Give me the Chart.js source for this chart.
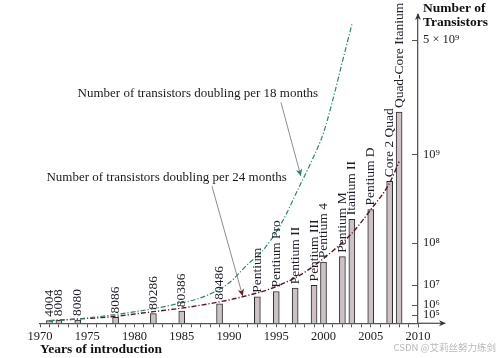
<!DOCTYPE html>
<html>
<head>
<meta charset="utf-8">
<script src="https://cdn.jsdelivr.net/npm/chart.js@4.4.1/dist/chart.umd.min.js"></script>
<style>
  html, body { margin: 0; padding: 0; background: #ffffff; }
  #wrap { width: 500px; height: 358px; position: relative; }
</style>
</head>
<body>
<div id="wrap"><canvas id="c" width="500" height="358"></canvas></div>
<script>
// ---------------- data ----------------
const processors = ['4004', '8008', '8080', '8086', '80286', '80386', '80486', 'Pentium',
  'Pentium Pro', 'Pentium II', 'Pentium III', 'Pentium 4', 'Pentium M', 'Itanium II',
  'Pentium D', 'Core 2 Quad', 'Quad-Core Itanium'];
const introYears = [1971, 1972, 1974, 1978, 1982, 1985, 1989, 1993, 1995, 1997, 1999, 2000,
  2002, 2003, 2005, 2007, 2008];
const transistorCounts = [2300, 3500, 4500, 29000, 134000, 275000, 1200000, 3100000, 5500000,
  7500000, 9500000, 42000000, 55000000, 220000000, 291000000, 582000000, 2000000000];

// doubling curves, values
const curve18Years = [1971, 1974, 1977.5, 1980.5, 1984, 1987.5, 1990, 1992, 1993.5, 1995.5,
  1997.5, 1998.5, 2000, 2001, 2002, 2003];
const curve18Values = [2.3e3, 1.1e4, 8e4, 2.8e5, 1e6, 3.4e6, 1.15e7, 3.8e7, 7e7, 1.9e8,
  5.3e8, 8e8, 1.45e9, 2.4e9, 3.9e9, 5.9e9];
const curve24Years = [1971, 1974, 1977.5, 1982, 1986, 1990, 1991.5, 1994, 1997.5, 1999.5,
  2001.5, 2003, 2005, 2007, 2008];
const curve24Values = [2.3e3, 1.1e4, 4e4, 2.4e5, 7.2e5, 2.1e6, 3.2e6, 6.3e6, 2e7, 4.2e7,
  8.5e7, 1.4e8, 2.9e8, 5.6e8, 8.7e8];

const majorYears = [1970, 1975, 1980, 1985, 1990, 1995, 2000, 2005, 2010];
const yTickValues = [1e5, 1e6, 1e7, 1e8, 1e9, 5e9];
const yTickLabels = ['10\u2075', '10\u2076', '10\u2077', '10\u2078', '10\u2079', '5 \u00d7 10\u2079'];

const annotationTexts = ['Number of transistors doubling per 18 months',
  'Number of transistors doubling per 24 months'];

// ---------------- settings (positions in data space) ----------------
const SERIF = '"Liberation Serif", "DejaVu Serif", serif';
const EXPONENT = 0.321;
const annotationCfg = [
  { text: {x: 1986.7, y: 2.6e9}, tail: {x: 1995.5, y: 2.3e9}, tip: {x: 1997.6, y: 6.5e8}, head: '#1d8466' },
  { text: {x: 1983.4, y: 6.3e8}, tail: {x: 1988.2, y: 5.2e8}, tip: {x: 1991.45, y: 3.4e6}, head: '#7c1424' }
];

// ---------------- power scale ----------------
class PowerScale extends Chart.LinearScale {
  getPixelForValue(value) {
    const v = Math.max(0, +value || 0);
    return this.getPixelForDecimal(Math.pow(v, EXPONENT) / Math.pow(this.max, EXPONENT));
  }
  getValueForPixel(pixel) {
    return Math.pow(this.getDecimalForPixel(pixel), 1 / EXPONENT) * this.max;
  }
}
PowerScale.id = 'power';
PowerScale.defaults = {};
Chart.register(PowerScale);

const minorYears = [];
for (let y = 1970; y <= 2010; y++) minorYears.push(y);

// ---------------- helpers ----------------
function arrowHead(ctx, x, y, angle, len, half, color) {
  ctx.save();
  ctx.translate(x, y);
  ctx.rotate(angle);
  ctx.beginPath();
  ctx.moveTo(0, 0);
  ctx.lineTo(-len, -half);
  ctx.lineTo(-len * 0.7, 0);
  ctx.lineTo(-len, half);
  ctx.closePath();
  ctx.fillStyle = color;
  ctx.fill();
  ctx.restore();
}

const decorPlugin = {
  id: 'decor',
  afterDatasetsDraw(chart) {
    const ctx = chart.ctx;
    const xs = chart.scales.x, ys = chart.scales.y;
    // bar labels
    const meta = chart.getDatasetMeta(2);
    ctx.save();
    ctx.fillStyle = '#1e1e2a';
    ctx.font = '13.5px ' + SERIF;
    ctx.textAlign = 'left';
    ctx.textBaseline = 'middle';
    meta.data.forEach((el, i) => {
      ctx.save();
      ctx.translate(el.x, el.y - 4);
      ctx.rotate(-Math.PI / 2);
      ctx.fillText(processors[i], 0, 0);
      ctx.restore();
    });
    ctx.restore();

    // annotations
    annotationCfg.forEach((a, i) => {
      const tx = xs.getPixelForValue(a.text.x), ty = ys.getPixelForValue(a.text.y);
      ctx.save();
      ctx.fillStyle = '#1a1a1a';
      ctx.font = '13px ' + SERIF;
      ctx.textAlign = 'center';
      ctx.textBaseline = 'middle';
      ctx.fillText(annotationTexts[i], tx, ty);
      const x1 = xs.getPixelForValue(a.tail.x), y1 = ys.getPixelForValue(a.tail.y);
      const x2 = xs.getPixelForValue(a.tip.x), y2 = ys.getPixelForValue(a.tip.y);
      ctx.strokeStyle = '#707070';
      ctx.lineWidth = 0.8;
      ctx.beginPath();
      ctx.moveTo(x1, y1);
      ctx.lineTo(x2, y2);
      ctx.stroke();
      arrowHead(ctx, x2, y2, Math.atan2(y2 - y1, x2 - x1), 7, 3.2, a.head);
      ctx.restore();
    });
  },
  afterDraw(chart) {
    const ctx = chart.ctx;
    const ca = chart.chartArea;
    const ys = chart.scales.y;
    ctx.save();
    ctx.strokeStyle = '#555';
    ctx.lineWidth = 1.3;
    // x axis extension + arrow
    ctx.beginPath();
    ctx.moveTo(ca.right, ca.bottom);
    ctx.lineTo(ca.right + 25, ca.bottom);
    ctx.stroke();
    arrowHead(ctx, ca.right + 28, ca.bottom, 0, 7, 3, '#333');
    // y axis arrow
    arrowHead(ctx, ca.right, ca.top - 2, -Math.PI / 2, 7, 3, '#333');
    // y ticks, inside
    ctx.lineWidth = 1;
    ys.ticks.forEach(t => {
      const py = Math.round(ys.getPixelForValue(t.value)) + 0.5;
      ctx.beginPath();
      ctx.moveTo(ca.right - 6, py);
      ctx.lineTo(ca.right, py);
      ctx.stroke();
    });
    // y axis title
    ctx.fillStyle = '#111';
    ctx.font = 'bold 13.5px ' + SERIF;
    ctx.textAlign = 'left';
    ctx.textBaseline = 'middle';
    ctx.fillText('Number of', ys.left + 5, 9);
    ctx.fillText('Transistors', ys.left + 5, 23);
    // watermark
    ctx.fillStyle = 'rgba(160,160,160,0.75)';
    ctx.font = '9.5px "Noto Sans CJK SC", sans-serif';
    ctx.textAlign = 'right';
    ctx.fillText('CSDN @\u827e\u8389\u4e1d\u52aa\u529b\u7ec3\u5251', 496, 347);
    ctx.restore();
  }
};

new Chart(document.getElementById('c'), {
  type: 'bar',
  data: {
    datasets: [
      {
        type: 'line',
        label: 'doubling per 18 months',
        data: curve18Years.map((x, i) => ({x, y: curve18Values[i]})),
        borderColor: '#238a6c',
        borderWidth: 1.2,
        borderDash: [5, 2, 1.2, 2],
        pointRadius: 0,
        fill: false,
        cubicInterpolationMode: 'monotone',
        order: 0
      },
      {
        type: 'line',
        label: 'doubling per 24 months',
        data: curve24Years.map((x, i) => ({x, y: curve24Values[i]})),
        borderColor: '#5e1424',
        borderWidth: 1.4,
        borderDash: [5, 2, 1.2, 2],
        pointRadius: 0,
        fill: false,
        cubicInterpolationMode: 'monotone',
        order: 0
      },
      {
        type: 'bar',
        label: 'Transistors',
        data: introYears.map((x, i) => ({x, y: transistorCounts[i]})),
        backgroundColor: '#cdc1c8',
        borderColor: '#2a2a2a',
        borderWidth: 1,
        borderSkipped: 'bottom',
        barThickness: 6,
        order: 1
      }
    ]
  },
  options: {
    responsive: false,
    animation: false,
    layout: { padding: { left: 40, top: 15, right: 0, bottom: 0 } },
    plugins: { legend: { display: false }, tooltip: { enabled: false } },
    scales: {
      x: {
        type: 'linear',
        min: 1970,
        max: 2010,
        offset: false,
        grid: { display: true, drawOnChartArea: false, drawTicks: true, tickLength: 4, color: '#555', offset: false },
        border: { display: true, color: '#555', width: 1.3 },
        ticks: {
          autoSkip: false, maxRotation: 0, minRotation: 0, padding: 2, color: '#222',
          font: { family: SERIF, size: 12.5 },
          callback: v => majorYears.includes(v) ? String(v) : ''
        },
        afterBuildTicks: s => { s.ticks = minorYears.map(v => ({value: v})); },
        title: {
          display: true, text: 'Years of introduction', align: 'start', color: '#111',
          font: { family: SERIF, size: 13.5, weight: 'bold' }, padding: { top: 0, bottom: 0 }
        },
        afterFit: s => { s.height = 34.7; }
      },
      y: {
        type: 'power',
        position: 'right',
        min: 0,
        max: 6.5e9,
        grid: { display: true, drawOnChartArea: false, drawTicks: false },
        border: { display: true, color: '#555', width: 1.3 },
        ticks: {
          autoSkip: false, padding: 5, color: '#222',
          font: { family: SERIF, size: 12.5 },
          callback: (v, i) => yTickLabels[i]
        },
        afterBuildTicks: s => { s.ticks = yTickValues.map(v => ({value: v})); },
        afterFit: s => { s.width = 82; }
      }
    }
  },
  plugins: [decorPlugin]
});
</script>
</body>
</html>
